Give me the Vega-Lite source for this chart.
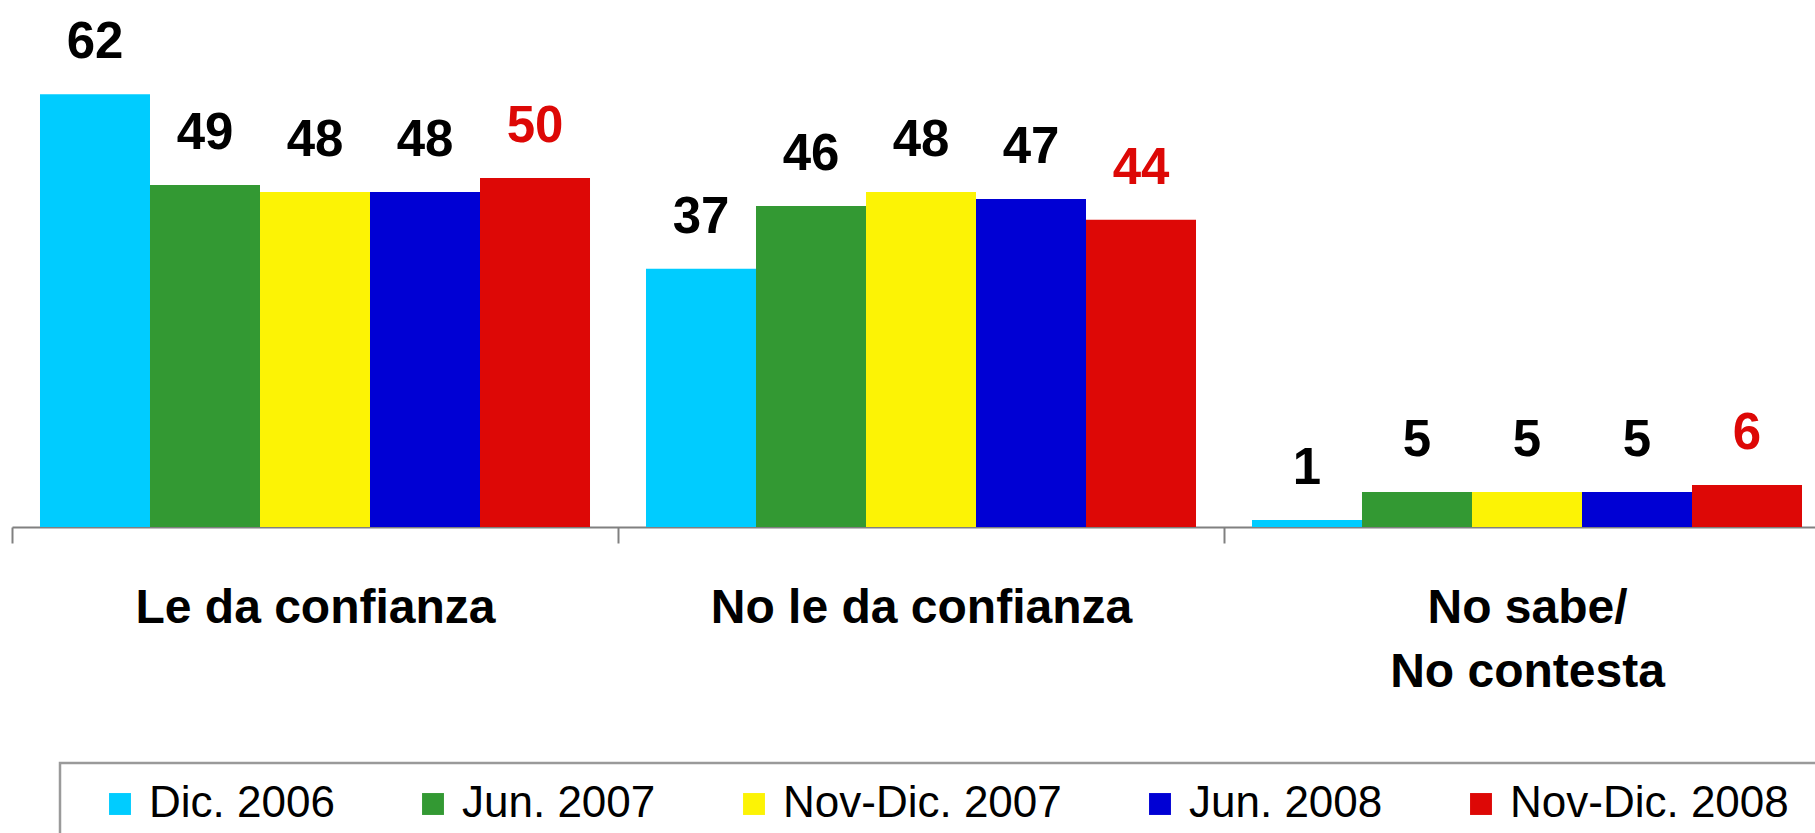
{
  "$schema": "https://vega.github.io/schema/vega-lite/v6.json",
  "width": 1818,
  "height": 527,
  "padding": {"left": 12, "top": 0, "right": -15, "bottom": 306},
  "autosize": {"type": "none"},
  "background": "white",
  "config": {"view": {"stroke": null}, "font": "Liberation Sans", "legend": {"strokeWidth": 2.5}},
  "data": {"values": [
    {"cat": "Le da confianza", "serie": "Dic. 2006", "v": 62},
    {"cat": "Le da confianza", "serie": "Jun. 2007", "v": 49},
    {"cat": "Le da confianza", "serie": "Nov-Dic. 2007", "v": 48},
    {"cat": "Le da confianza", "serie": "Jun. 2008", "v": 48},
    {"cat": "Le da confianza", "serie": "Nov-Dic. 2008", "v": 50},
    {"cat": "No le da confianza", "serie": "Dic. 2006", "v": 37},
    {"cat": "No le da confianza", "serie": "Jun. 2007", "v": 46},
    {"cat": "No le da confianza", "serie": "Nov-Dic. 2007", "v": 48},
    {"cat": "No le da confianza", "serie": "Jun. 2008", "v": 47},
    {"cat": "No le da confianza", "serie": "Nov-Dic. 2008", "v": 44},
    {"cat": "No sabe/No contesta", "serie": "Dic. 2006", "v": 1},
    {"cat": "No sabe/No contesta", "serie": "Jun. 2007", "v": 5},
    {"cat": "No sabe/No contesta", "serie": "Nov-Dic. 2007", "v": 5},
    {"cat": "No sabe/No contesta", "serie": "Jun. 2008", "v": 5},
    {"cat": "No sabe/No contesta", "serie": "Nov-Dic. 2008", "v": 6}
  ]},
  "encoding": {
    "x": {
      "field": "cat", "type": "nominal", "sort": null,
      "scale": {"paddingInner": 0, "paddingOuter": 0},
      "axis": {
        "title": null, "labelAngle": 0,
        "tickBand": "extent",
        "domainColor": "#808080", "domainWidth": 2,
        "tickColor": "#808080", "tickWidth": 2, "tickSize": 16,
        "labelFont": "Liberation Sans", "labelFontSize": 48, "labelFontWeight": "bold",
        "labelColor": "black", "labelBaseline": "top", "labelPadding": 41,
        "labelLineHeight": 64, "labelLimit": 0,
        "labelExpr": "datum.value == 'No sabe/No contesta' ? ['No sabe/', 'No contesta'] : datum.value"
      }
    },
    "xOffset": {
      "field": "serie", "type": "nominal",
      "sort": ["Dic. 2006", "Jun. 2007", "Nov-Dic. 2007", "Jun. 2008", "Nov-Dic. 2008"],
      "scale": {"paddingInner": 0, "paddingOuter": 0.2545}
    },
    "y": {
      "field": "v", "type": "quantitative",
      "scale": {"domain": [0, 75.5], "nice": false, "zero": true},
      "axis": null
    }
  },
  "layer": [
    {
      "mark": {"type": "bar", "cornerRadius": 0},
      "encoding": {
        "color": {
          "field": "serie", "type": "nominal",
          "sort": ["Dic. 2006", "Jun. 2007", "Nov-Dic. 2007", "Jun. 2008", "Nov-Dic. 2008"],
          "scale": {
            "domain": ["Dic. 2006", "Jun. 2007", "Nov-Dic. 2007", "Jun. 2008", "Nov-Dic. 2008"],
            "range": ["#00CCFF", "#339933", "#FCF305", "#0000D4", "#DD0806"]
          },
          "legend": {
            "title": " ", "titleOrient": "right", "titlePadding": 60, "titleFontSize": 10,
            "orient": "none", "legendX": 48, "legendY": 763,
            "direction": "horizontal",
            "strokeColor": "#9a9a9a",
            "padding": 19,
            "symbolType": "square", "symbolSize": 480, "symbolStrokeWidth": 0,
            "symbolOffset": 19,
            "labelFont": "Liberation Sans", "labelFontSize": 44, "labelColor": "black",
            "labelOffset": 7, "labelLimit": 0,
            "columnPadding": 57
          }
        }
      }
    },
    {
      "mark": {"type": "text", "baseline": "alphabetic", "dy": -36, "font": "Liberation Sans", "fontSize": 51, "fontWeight": "bold"},
      "encoding": {
        "text": {"field": "v", "type": "quantitative"},
        "color": {
          "condition": {"test": "datum.serie == 'Nov-Dic. 2008'", "value": "#DD0806"},
          "value": "black"
        }
      }
    }
  ]
}
